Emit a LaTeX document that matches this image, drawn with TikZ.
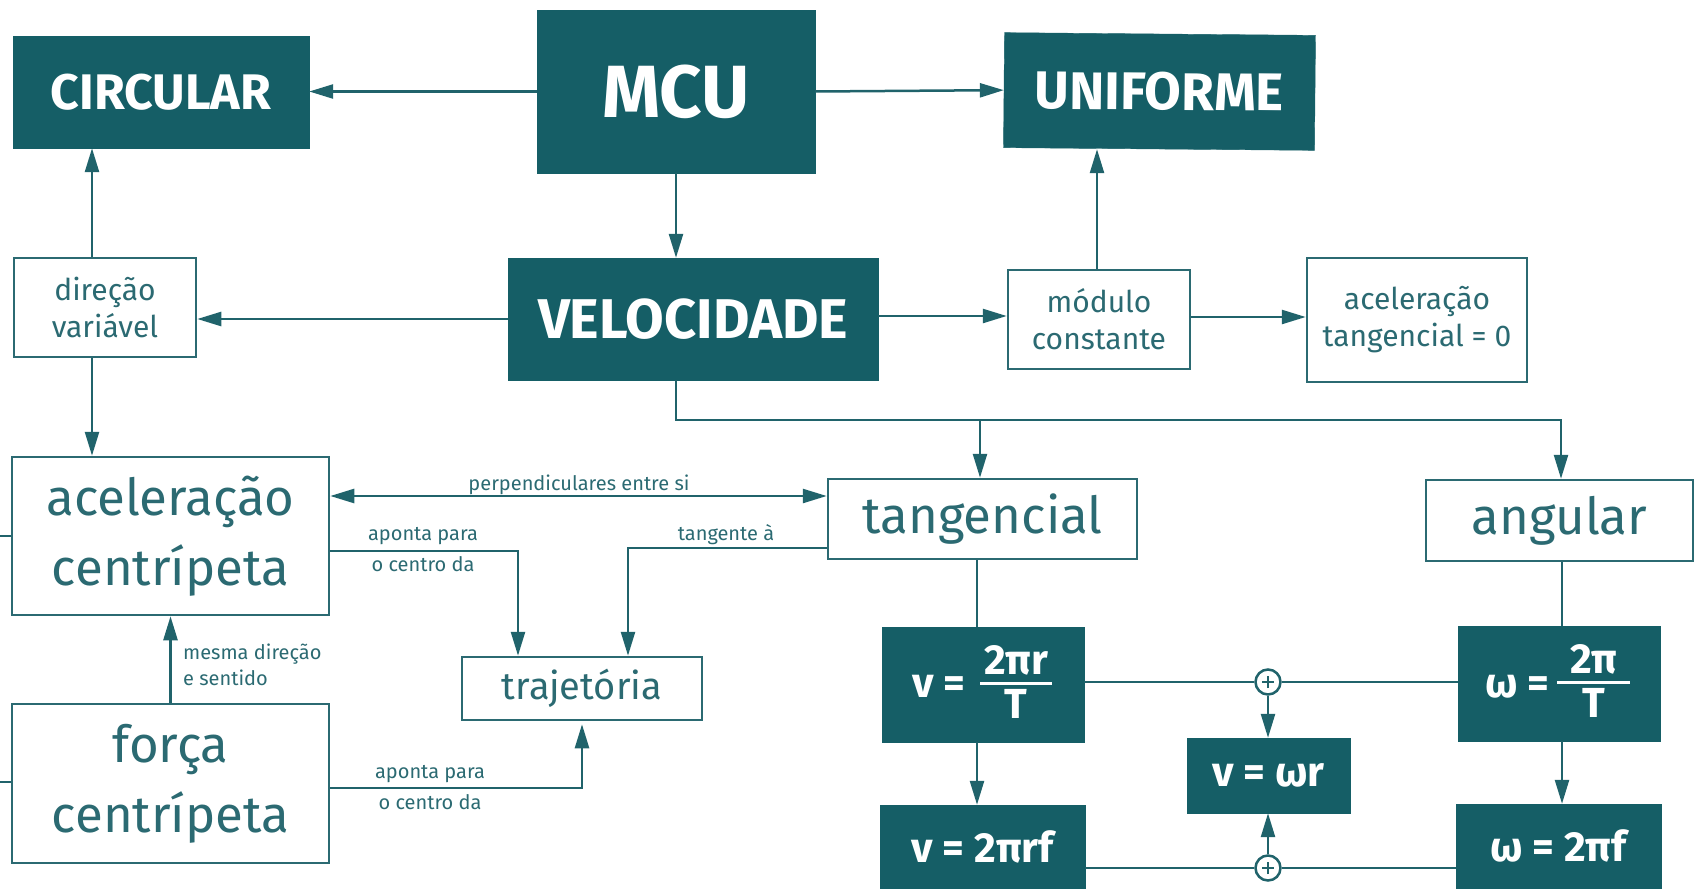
\documentclass[tikz,border=0pt]{standalone}
\usepackage{fontspec}
\setmainfont{Fira Sans}
\usetikzlibrary{arrows.meta,calc}
\definecolor{tealA}{HTML}{155E66}
\definecolor{tealB}{HTML}{2B6A72}
\definecolor{tealC}{HTML}{20636B}
\begin{document}
\begin{tikzpicture}[x=1pt,y=-1pt,
  dark/.style={rectangle, fill=tealA, draw=tealA, text=white, inner sep=0pt},
  light/.style={rectangle, draw=tealB, line width=2.5pt, fill=white, text=tealB, align=center, inner sep=0pt},
  conn/.style={draw=tealC, line width=2.5pt},
  arr/.style={conn, -{Triangle[length=24pt,width=14pt]}},
  lbl/.style={text=tealB, font=\fontsize{20}{24}\selectfont, inner sep=0pt, anchor=base},
  ftext/.style={text=white, font=\bfseries\fontsize{42}{48}\selectfont, inner sep=0pt},
  midtext/.style={font=\fontsize{30}{37}\selectfont},
  bigtext/.style={font=\fontsize{51}{70}\selectfont},
  plusnode/.style={circle, draw=tealC, line width=2.5pt, fill=white, minimum size=25pt, inner sep=0pt,
    path picture={\draw[tealC, line width=1.8pt]
      ([xshift=-6pt]path picture bounding box.center) -- ([xshift=6pt]path picture bounding box.center)
      ([yshift=-6pt]path picture bounding box.center) -- ([yshift=6pt]path picture bounding box.center);}}
]
\useasboundingbox (0,0) rectangle (1700,889);

% dark title boxes
\node[dark, minimum width=296pt, minimum height=112pt, font=\bfseries\fontsize{50}{56}\selectfont] (circ) at (161,92) {CIRCULAR};
\node[dark, minimum width=278pt, minimum height=163pt, font=\bfseries\fontsize{74}{80}\selectfont] (mcu) at (676,91.5) {MCU};
\node[dark, rotate=-0.5, minimum width=311pt, minimum height=115pt, font=\bfseries\fontsize{53}{60}\selectfont] (unif) at (1159.5,91.5) {UNIFORME};
\node[dark, minimum width=370pt, minimum height=122pt, font=\bfseries\fontsize{56}{60}\selectfont] (vel) at (693,319) {VELOCIDADE};

% light boxes
\node[light, midtext, minimum width=182pt, minimum height=99pt] (dir) at (105,307.5) {direção\\variável};
\node[light, midtext, minimum width=182pt, minimum height=99pt] (mod) at (1099,319.5) {módulo\\constante};
\node[light, midtext, minimum width=220pt, minimum height=124pt] (acelt) at (1417,320) {aceleração\\tangencial = 0};
\node[light, bigtext, minimum width=317pt, minimum height=158pt] (acelc) at (170.5,536) {aceleração\\centrípeta};
\node[light, bigtext, minimum width=317pt, minimum height=159pt] (forca) at (170.5,783.5) {força\\centrípeta};
\node[light, font=\fontsize{38}{46}\selectfont, minimum width=240pt, minimum height=63pt] (traj) at (582,688.5) {trajetória};
\node[light, bigtext, minimum width=309pt, minimum height=80pt] (tang) at (982.5,519) {tangencial};
\node[light, bigtext, minimum width=267pt, minimum height=81pt] (ang) at (1559.5,520.5) {angular};

% formula boxes
\node[dark, minimum width=202pt, minimum height=115pt] (f1) at (983,684.5) {};
\node[ftext, anchor=base west] (f1a) at (912,697) {v =};
\node[ftext, anchor=base] (f1n) at (1016,674) {2πr};
\node[ftext, anchor=base] (f1d) at (1016,718) {T};
\draw[white, line width=3pt] (980,683) -- (1052,683);

\node[dark, minimum width=202pt, minimum height=115pt] (f2) at (1559,683.5) {};
\node[ftext, anchor=base west] (f2a) at (1485,697) {ω =};
\node[ftext, anchor=base] (f2n) at (1594,673) {2π};
\node[ftext, anchor=base] (f2d) at (1594,717) {T};
\draw[white, line width=3pt] (1557,682) -- (1630,682);

\node[dark, ftext, minimum width=163pt, minimum height=75pt] (f3) at (1268.5,775.5) {v = ωr};
\node[dark, ftext, minimum width=205pt, minimum height=83pt] (f4) at (982.5,846.5) {v = 2πrf};
\node[dark, ftext, minimum width=205pt, minimum height=84pt] (f5) at (1558.5,846) {ω = 2πf};

\node[plusnode] (p1) at (1268,682) {};
\node[plusnode] (p2) at (1268,868) {};

% connectors
\draw[arr] (mcu.west) -- (mcu.west -| circ.east);
\draw[arr] (mcu.east) -- (unif.west);
\draw[arr] (mcu.south) -- (mcu.south |- vel.north);
\draw[arr] (vel.west) -- (vel.west -| dir.east);
\draw[arr] ([yshift=3pt]vel.east) -- ([yshift=3pt]vel.east -| mod.west);
\draw[arr] ([yshift=2.5pt]mod.east) -- ([yshift=2.5pt]mod.east -| acelt.west);
\draw[arr] ([xshift=-2pt]mod.north) -- ([xshift=-2pt]mod.north |- unif.south);
\draw[arr] ([xshift=-13pt]dir.north) -- ([xshift=-13pt]dir.north |- circ.south);
\draw[arr] ([xshift=-13pt]dir.south) -- ([xshift=-13pt]dir.south |- acelc.north);

\draw[arr] ([xshift=-17pt]vel.south) |- ([xshift=1.5pt,yshift=59pt]ang.north) -- ([xshift=1.5pt]ang.north);
\draw[arr] ([xshift=-2.5pt,yshift=58pt]tang.north) -- ([xshift=-2.5pt]tang.north);

\draw[conn, {Triangle[length=24pt,width=14pt]}-{Triangle[length=24pt,width=14pt]}]
  ([yshift=40pt]acelc.east) -- ([yshift=40pt]acelc.east -| tang.west);
\node[lbl] (lperp) at (579,490) {perpendiculares entre si};

\draw[arr] ([yshift=-15pt]acelc.east) -| ([xshift=-64pt]traj.north);
\node[lbl] (lap1) at (423,540) {aponta para};
\node[lbl] (lcd1) at (423,571) {o centro da};

\draw[arr] ([yshift=-29pt]tang.west) -| ([xshift=46pt]traj.north);
\node[lbl] (ltg) at (726,540) {tangente à};

\draw[arr] ([yshift=-4.5pt]forca.east) -| ([yshift=-3pt]traj.south);
\node[lbl] (lap2) at (430,778) {aponta para};
\node[lbl] (lcd2) at (430,809) {o centro da};

\draw[arr] (forca.north) -- (acelc.south);
\node[lbl, anchor=base west] (lmd) at (183,659) {mesma direção};
\node[lbl, anchor=base west] (les) at (183,685) {e sentido};

\coordinate (stubA) at (0,536);
\coordinate (stubB) at (0,782);
\draw[conn] (acelc.west) -- (stubA);
\draw[conn] ([yshift=1.5pt]forca.west) -- (stubB);

\draw[conn] ([xshift=-6pt]f1.north |- tang.south) -- ([xshift=-6pt]f1.north);
\draw[conn] ([xshift=3pt]f2.north |- ang.south) -- ([xshift=3pt]f2.north);
\draw[arr] ([xshift=-6pt]f1.south) -- ([xshift=-6pt]f1.south |- f4.north);
\draw[arr] ([xshift=3pt]f2.south) -- ([xshift=3pt]f2.south |- f5.north);

\draw[conn] (f1.east |- p1) -- (p1);
\draw[conn] (p1) -- (f2.west |- p1);
\draw[arr] (p1) -- (p1 |- f3.north);
\draw[conn] (f4.east |- p2) -- (p2);
\draw[conn] (p2) -- (f5.west |- p2);
\draw[arr] (p2) -- (p2 |- f3.south);
\end{tikzpicture}
\end{document}
